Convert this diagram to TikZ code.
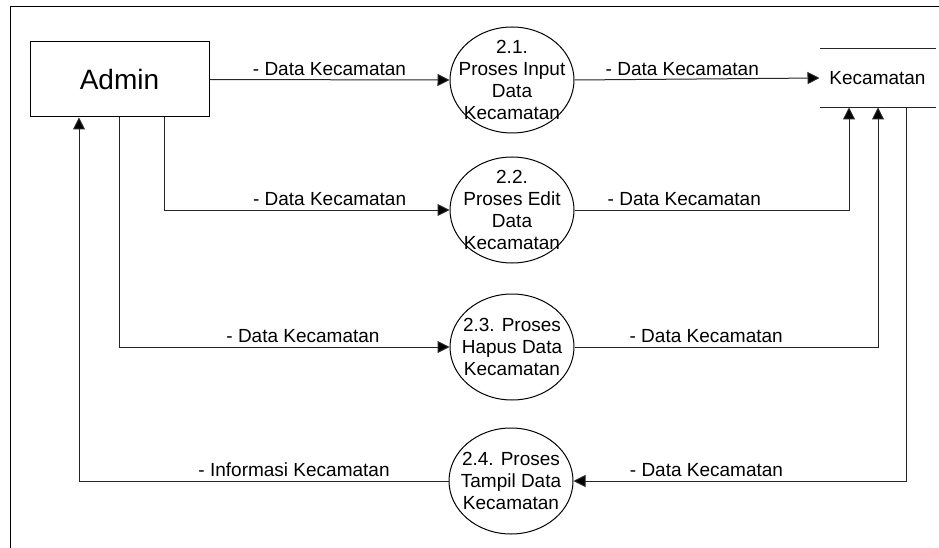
\documentclass[tikz,border=0pt]{standalone}
\usepackage{fontspec}
\setmainfont{Liberation Sans}
\usetikzlibrary{arrows.meta, calc, shapes.geometric}

\tikzset{
  entity/.style={draw, minimum width=179pt, minimum height=75pt, inner sep=0pt, font=\fontsize{28}{32}\selectfont},
  proc/.style={draw, ellipse, minimum width=124pt, minimum height=106pt, inner sep=0pt},
  ptext/.style={align=center, font=\fontsize{19}{22}\selectfont},
  store/.style={minimum width=115pt, minimum height=58pt, inner sep=0pt, font=\fontsize{19}{22}\selectfont},
  flow/.style={draw=black!85, -{Triangle[length=12pt,width=12pt,fill=black]}},
  line/.style={draw=black!85},
  lbl/.style={above, font=\fontsize{19}{22}\selectfont},
}

\begin{document}
\begin{tikzpicture}[x=1pt, y=-1pt, line width=1pt]
\useasboundingbox (0,0) rectangle (939,548);
\draw (939,7) -- (10,7) -- (10,548);

\node[entity] (admin) at (119.5,79.5) {Admin};
\node[proc, label={[ptext]center:{2.1.\\Proses Input\\Data\\Kecamatan}}] (p1) at (512,80) {};
\node[proc, label={[ptext]center:{2.2.\\Proses Edit\\Data\\Kecamatan}}] (p2) at (512,210) {};
\node[proc, label={[ptext]center:{2.3. Proses\\Hapus Data\\Kecamatan}}] (p3) at (512,347) {};
\node[proc, label={[ptext]center:{2.4. Proses\\Tampil Data\\Kecamatan}}] (p4) at (511,481) {};
\node[store] (kec) at (877.5,78) {Kecamatan};
\draw[line] (kec.north west) -- (kec.north east);
\draw[line] (kec.south west) -- (kec.south east);

\draw[flow] (admin.east) -- (p1.west) node[lbl, midway] {- Data Kecamatan};
\draw[flow] ($(admin.south)+(44.5,0)$) |- (p2.west) node[lbl, pos=0.79] {- Data Kecamatan};
\draw[flow] (admin.south) |- (p3.west) node[lbl, pos=0.778] {- Data Kecamatan};
\draw[flow] (p4.west) -| ($(admin.south)+(-40.5,0)$) node[lbl, pos=0.209] {- Informasi Kecamatan};

\draw[flow] (p1.east) -- (kec.west) node[lbl, pos=0.44] {- Data Kecamatan};
\draw[flow] (p2.east) -| ($(kec.south)+(-28.5,0)$) node[lbl, pos=0.2] {- Data Kecamatan};
\draw[flow] (p3.east) -| ($(kec.south)+(0.5,0)$) node[lbl, pos=0.217] {- Data Kecamatan};
\draw[flow] ($(kec.south)+(28.5,0)$) |- (p4.east) node[lbl, pos=0.8] {- Data Kecamatan};
\end{tikzpicture}
\end{document}
